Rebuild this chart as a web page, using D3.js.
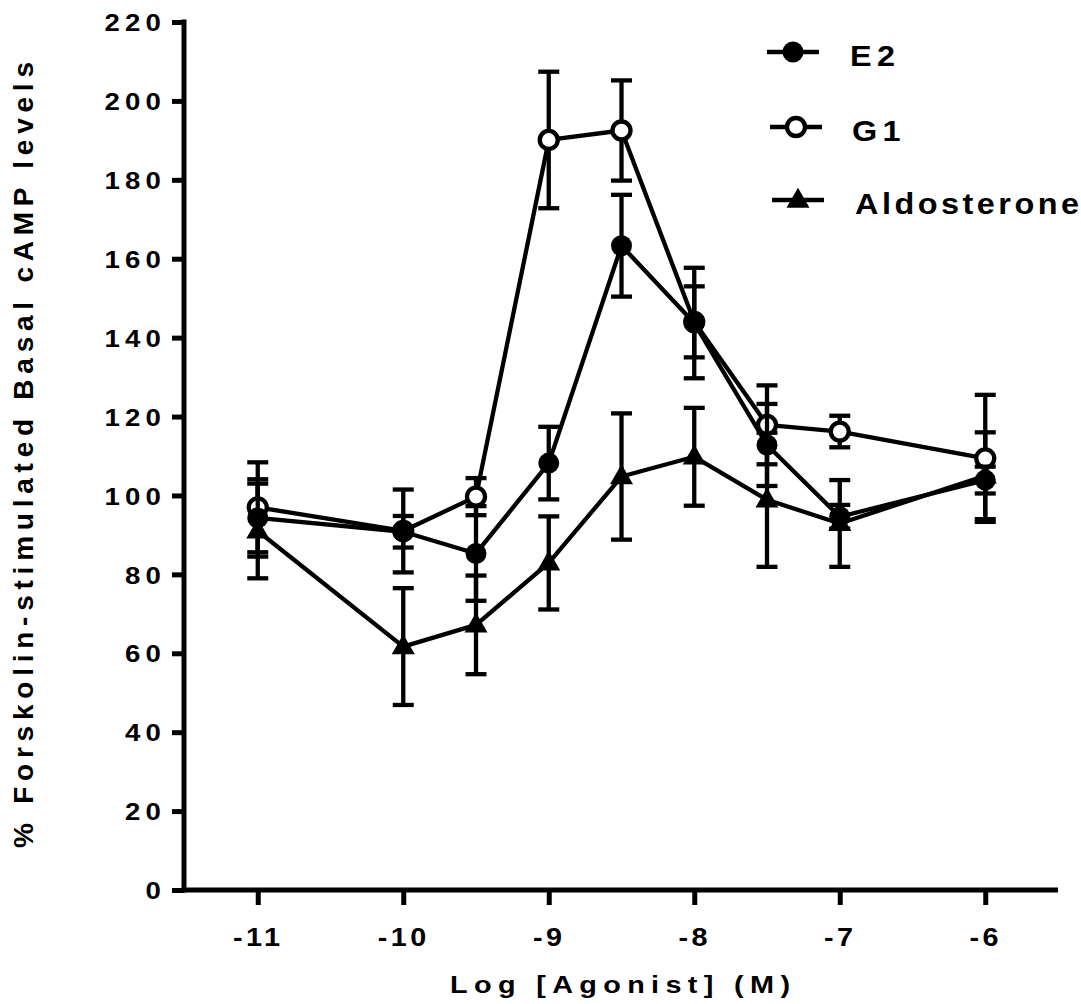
<!DOCTYPE html>
<html>
<head>
<meta charset="utf-8">
<script src="https://cdn.jsdelivr.net/npm/d3@7"></script>
<style>
  html, body { margin: 0; padding: 0; background: #fff; }
  svg { display: block; }
  text { font-family: "Liberation Sans", Arial, Helvetica, sans-serif; font-weight: bold; fill: #000; }
</style>
</head>
<body>
<script>
// Log concentration of agonist (M)
const logConc = [-11, -10, -9.5, -9, -8.5, -8, -7.5, -7, -6];

// Mean responses (% of forskolin-stimulated basal cAMP) and SEM
const e2Mean  = [94.3, 90.8, 85.3, 108.2, 163.3, 143.7, 112.8, 94.6, 103.9];
const e2Err   = [9.8, 4.0, 12.0, 9.2, 12.9, 14.0, 10.4, 3.0, 3.4];
const g1Mean  = [97.0, 91.0, 99.7, 190.1, 192.5, 144.0, 117.9, 116.2, 109.4];
const g1Err   = [11.4, 10.5, 4.7, 17.3, 12.7, 9.0, 10.0, 4.0, 16.1];
const aldoMean = [91.0, 61.7, 67.2, 82.9, 104.8, 109.8, 98.9, 92.9, 105.0];
const aldoErr  = [12.0, 14.8, 12.5, 11.8, 16.0, 12.4, 17.0, 11.0, 11.0];

const seriesNames = ["E2", "G1", "Aldosterone"];
const yTicks = [0, 20, 40, 60, 80, 100, 120, 140, 160, 180, 200, 220];
const xTicks = [-11, -10, -9, -8, -7, -6];

const W = 1081, H = 1004;
const svg = d3.select("body").append("svg").attr("width", W).attr("height", H);

const x = d3.scaleLinear().domain([-11.5, -5.5]).range([185, 1058]);
const y = d3.scaleLinear().domain([0, 220]).range([890, 22]);

const black = "#000";
const axisW = 5;
const lw = 4.3;
const wide = 1.15; // horizontal glyph stretch used for the labels

// Axes
const yAxis = svg.append("g").attr("transform", `translate(${x(-11.5) - 1},0)`)
  .call(d3.axisLeft(y).tickValues(yTicks).tickSize(12).tickSizeOuter(0).tickFormat(d => String(d)));
const xAxis = svg.append("g").attr("transform", `translate(0,${y(0)})`)
  .call(d3.axisBottom(x).tickValues(xTicks).tickSize(15).tickSizeOuter(0).tickFormat(d => String(d)));

[yAxis, xAxis].forEach(g => {
  g.select(".domain").attr("stroke", black).attr("stroke-width", axisW);
  g.selectAll(".tick line").attr("stroke", black).attr("stroke-width", axisW);
  g.selectAll(".tick text").attr("fill", black)
    .style("font-family", '"Liberation Sans", Arial, sans-serif')
    .style("font-weight", "bold");
});
yAxis.select(".domain").attr("d", `M0,${y(220) - 2.5}V${y(0) + 2.5}`);
xAxis.select(".domain").attr("d", `M${x(-11.5) - 3.5},0H${x(-5.5)}`);
yAxis.selectAll(".tick text")
  .style("font-size", "24px").style("letter-spacing", "4.5px")
  .attr("transform", `scale(${wide},1)`)
  .attr("x", -18 / wide).attr("dy", "0.36em");
xAxis.selectAll(".tick text")
  .style("font-size", "25px").style("letter-spacing", "3px")
  .attr("transform", `scale(${wide},1)`)
  .attr("x", 0).attr("y", 56).attr("dy", 0);

// Axis titles
svg.append("text")
  .attr("transform", "translate(33,455) rotate(-90)")
  .attr("text-anchor", "middle")
  .attr("textLength", 786).attr("lengthAdjust", "spacing")
  .style("font-size", "28px")
  .text("% Forskolin-stimulated Basal cAMP levels");

svg.append("text")
  .attr("transform", `translate(620,993) scale(${wide + 0.05},1)`)
  .attr("text-anchor", "middle")
  .attr("textLength", 340 / (wide + 0.05)).attr("lengthAdjust", "spacing")
  .style("font-size", "24px")
  .text("Log [Agonist] (M)");

// Series
const series = [
  { name: "Aldosterone", mean: aldoMean, err: aldoErr, marker: "triangle" },
  { name: "G1", mean: g1Mean, err: g1Err, marker: "open" },
  { name: "E2", mean: e2Mean, err: e2Err, marker: "filled" }
];

const capW = 10.5;
const line = d3.line().x(d => x(d.x)).y(d => y(d.y));

function drawMarker(g, cx, cy, type) {
  if (type === "filled") {
    g.append("circle").attr("cx", cx).attr("cy", cy).attr("r", 10.5).attr("fill", black);
  } else if (type === "open") {
    g.append("circle").attr("cx", cx).attr("cy", cy).attr("r", 9)
      .attr("fill", "#fff").attr("stroke", black).attr("stroke-width", lw);
  } else {
    g.append("path")
      .attr("d", d3.symbol().type(d3.symbolTriangle).size(230)())
      .attr("transform", `translate(${cx},${cy + 1})`)
      .attr("fill", black);
  }
}

series.forEach(s => {
  const g = svg.append("g");
  const pts = logConc.map((c, i) => ({ x: c, y: s.mean[i], e: s.err[i] }));
  // error bars
  pts.forEach(p => {
    const cx = x(p.x), top = y(p.y + p.e), bot = y(p.y - p.e);
    g.append("line").attr("x1", cx).attr("x2", cx).attr("y1", top).attr("y2", bot)
      .attr("stroke", black).attr("stroke-width", lw);
    [top, bot].forEach(v => g.append("line")
      .attr("x1", cx - capW).attr("x2", cx + capW).attr("y1", v).attr("y2", v)
      .attr("stroke", black).attr("stroke-width", lw));
  });
  g.append("path").datum(pts).attr("d", line)
    .attr("fill", "none").attr("stroke", black).attr("stroke-width", lw)
    .attr("stroke-linejoin", "round");
  pts.forEach(p => drawMarker(g, x(p.x), y(p.y), s.marker));
});

// Legend
const legendY = [52, 127, 200];
const legendX = [767, 770, 772];
const legendTextX = [850, 852, 855];
const legendMarkers = ["filled", "open", "triangle"];
seriesNames.forEach((n, i) => {
  const g = svg.append("g");
  const ly = legendY[i], x0 = legendX[i];
  g.append("line").attr("x1", x0).attr("x2", x0 + 52).attr("y1", ly).attr("y2", ly)
    .attr("stroke", black).attr("stroke-width", lw);
  drawMarker(g, x0 + 26, ly, legendMarkers[i]);
  const t = g.append("text")
    .attr("transform", `translate(${legendTextX[i]},${ly + 14}) scale(1.08,1)`)
    .style("font-size", "30px").text(n);
  if (i === 2) t.attr("textLength", 224 / 1.08).attr("lengthAdjust", "spacing");
  else t.style("letter-spacing", "5px");
});
</script>
</body>
</html>
